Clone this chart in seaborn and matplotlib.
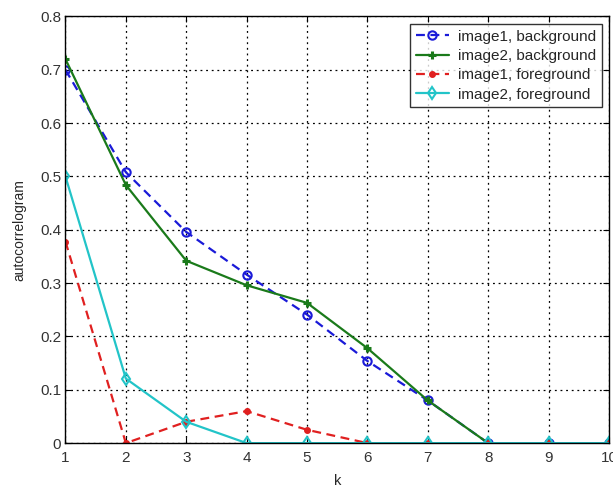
import pandas as pd
import matplotlib
matplotlib.use('Agg')
import matplotlib.pyplot as plt
import seaborn as sns

k = [1, 2, 3, 4, 5, 6, 7, 8, 9, 10]
img1_bg = [0.70, 0.508, 0.396, 0.316, 0.241, 0.154, 0.08, 0.0, 0.0, 0.0]
img2_bg = [0.72, 0.484, 0.342, 0.296, 0.263, 0.178, 0.08, 0.0, 0.0, 0.0]
img1_fg = [0.378, 0.0, 0.04, 0.06, 0.025, 0.0, 0.0, 0.0, 0.0, 0.0]
img2_fg = [0.50, 0.121, 0.04, 0.0, 0.0, 0.0, 0.0, 0.0, 0.0, 0.0]

names = ['image1, background', 'image2, background', 'image1, foreground', 'image2, foreground']

df = pd.DataFrame({
    'k': k * 4,
    'val': img1_bg + img2_bg + img1_fg + img2_fg,
    'series': [n for n in names for _ in k],
})

sns.set_style('white')
plt.rcParams['font.family'] = ['Liberation Sans', 'DejaVu Sans']

fig = plt.figure(figsize=(6.13, 4.94), dpi=100)
ax = fig.add_axes([0.1068, 0.103, 0.8866, 0.8636])

colors = ['#1a1ad8', '#1a7a1a', '#e02020', '#22c4c8']
styles = [(0, (4, 2.5)), '-', (0, (4, 2.5)), '-']
marks = ['o', '+', '.', 'd']

for name, c, ls, m in zip(names, colors, styles, marks):
    sub = df[df['series'] == name]
    sns.lineplot(data=sub, x='k', y='val', ax=ax, color=c, linestyle=ls, marker=m,
                 markerfacecolor='none' if m in ('o', 'd') else c,
                 markeredgecolor=c, markersize=6 if m != '.' else 7,
                 markeredgewidth=1.5 if m != '+' else 2.2,
                 linewidth=1.6, label=name)

ax.set_xlim(1, 10)
ax.set_ylim(0, 0.8)
ax.set_xticks(k)
ax.set_yticks([0, 0.1, 0.2, 0.3, 0.4, 0.5, 0.6, 0.7, 0.8])
ax.set_yticklabels(['0', '0.1', '0.2', '0.3', '0.4', '0.5', '0.6', '0.7', '0.8'])
ax.grid(True, color='black', linestyle=(0, (1.5, 3)), linewidth=0.9)
ax.tick_params(labelsize=11, direction='in', length=4, pad=3,
               left=True, bottom=True, top=True, right=True,
               colors='black', labelcolor='#333333')
ax.tick_params(axis='x', pad=6)
for s in ax.spines.values():
    s.set_color('black')
    s.set_linewidth(1)
ax.set_xlabel('k', fontsize=10.5, labelpad=6)
ax.set_ylabel('autocorrelogram', fontsize=10, labelpad=10)

leg = ax.legend(loc='upper right', fontsize=11, frameon=True, fancybox=False,
                edgecolor='black', handlelength=2.2, handletextpad=0.6, borderpad=0.35,
                labelspacing=0.35, borderaxespad=0, bbox_to_anchor=(0.987, 0.982))
leg.get_frame().set_linewidth(1)

fig.savefig('out.png', dpi=100)
